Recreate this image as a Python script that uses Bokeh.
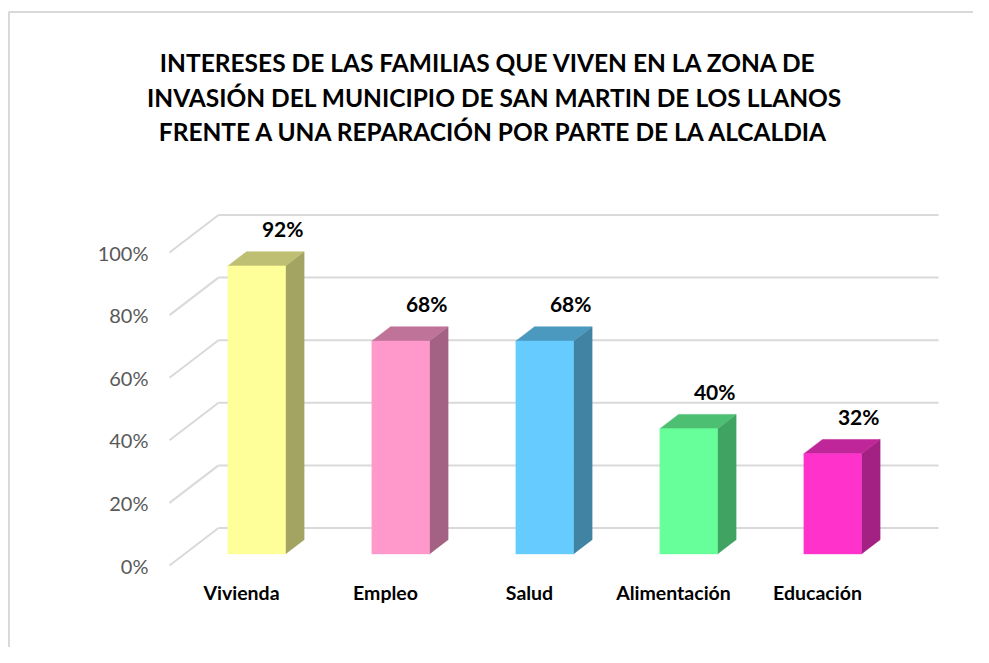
from bokeh.plotting import figure
from bokeh.models import Range1d
from bokeh.core.properties import value
from bokeh.embed import file_html
from bokeh.resources import INLINE

# ---------------- data ----------------
TITLE_LINES = [
    "INTERESES  DE  LAS FAMILIAS QUE VIVEN EN LA ZONA DE",
    "INVASIÓN DEL MUNICIPIO DE SAN MARTIN DE LOS LLANOS",
    "FRENTE A UNA REPARACIÓN POR PARTE DE LA ALCALDIA",
]
CATEGORIES = ["Vivienda", "Empleo", "Salud", "Alimentación", "Educación"]
VALUES = [92, 68, 68, 40, 32]
VALUE_LABELS = ["92%", "68%", "68%", "40%", "32%"]
COLORS = ["#FFFF99", "#FF99CC", "#66CCFF", "#66FF99", "#FF33CC"]
Y_TICKS = [0, 20, 40, 60, 80, 100]
Y_TICK_LABELS = ["0%", "20%", "40%", "60%", "80%", "100%"]

# ---------------- layout (pixels -> data units) ----------------
W, H = 973, 647
PX_X = 144.0          # pixels per category step
PX_Y = 3.13           # pixels per percentage point
ORIGIN_X = 241.0      # px from left of category 0 (front plane)
ORIGIN_Y_TOP = 565.0  # px from top of 0% (front plane)

x_start = -ORIGIN_X / PX_X
x_end = (W - ORIGIN_X) / PX_X
y_start = -(H - ORIGIN_Y_TOP) / PX_Y
y_end = ORIGIN_Y_TOP / PX_Y


def px_x(px):
    return (px - ORIGIN_X) / PX_X


def px_y(py):
    return (ORIGIN_Y_TOP - py) / PX_Y


DX = 49.0 / PX_X      # depth vector, front -> back wall
DY = 37.5 / PX_Y
F1, F2 = 0.31, 0.69   # bar front/back depth fraction
HW = 0.2              # bar half width
N = len(CATEGORIES)


def shade(c, f):
    return "#%02x%02x%02x" % tuple(int(round(int(c[i:i + 2], 16) * f)) for i in (1, 3, 5))


p = figure(width=W, height=H, x_range=Range1d(x_start, x_end), y_range=Range1d(y_start, y_end),
           output_backend="svg", toolbar_location=None, min_border=0,
           x_axis_type=None, y_axis_type=None, outline_line_color=None,
           background_fill_color="white", border_fill_color="white")
p.grid.visible = False

# chart area border (left and top edges)
bx = px_x(8.5)
by = px_y(11.5)
p.line([bx, bx, x_end + 1], [y_start - 5, by, by], line_color="#d9d9d9", line_width=2)

# back wall gridlines and side-wall diagonals
gx0 = -0.5
gx1 = N - 0.5
p.segment(x0=[gx0 + DX] * len(Y_TICKS), y0=[t + DY for t in Y_TICKS],
          x1=[gx1 + DX] * len(Y_TICKS), y1=[t + DY for t in Y_TICKS],
          line_color="#d9d9d9", line_width=2)
p.segment(x0=[gx0] * len(Y_TICKS), y0=Y_TICKS,
          x1=[gx0 + DX] * len(Y_TICKS), y1=[t + DY for t in Y_TICKS],
          line_color="#d9d9d9", line_width=2)

# y tick labels
p.text(x=[gx0 - 21.0 / PX_X] * len(Y_TICKS), y=Y_TICKS, text=Y_TICK_LABELS,
       text_font=value("Lato"), text_font_size="20px", text_color="#595959",
       text_align="right", text_baseline="middle")

# 3D bars
front_xs, front_ys, top_xs, top_ys, side_xs, side_ys = [], [], [], [], [], []
for i, v in enumerate(VALUES):
    xl, xr = i - HW, i + HW
    front_xs.append([xl + F1 * DX, xr + F1 * DX, xr + F1 * DX, xl + F1 * DX])
    front_ys.append([F1 * DY, F1 * DY, v + F1 * DY, v + F1 * DY])
    top_xs.append([xl + F1 * DX, xr + F1 * DX, xr + F2 * DX, xl + F2 * DX])
    top_ys.append([v + F1 * DY, v + F1 * DY, v + F2 * DY, v + F2 * DY])
    side_xs.append([xr + F1 * DX, xr + F2 * DX, xr + F2 * DX, xr + F1 * DX])
    side_ys.append([F1 * DY, F2 * DY, v + F2 * DY, v + F1 * DY])

top_cols = [shade(c, 0.75) for c in COLORS]
side_cols = [shade(c, 0.64) for c in COLORS]
p.patches(side_xs, side_ys, fill_color=side_cols, line_color=side_cols, line_width=0.5)
p.patches(top_xs, top_ys, fill_color=top_cols, line_color=top_cols, line_width=0.5)
p.patches(front_xs, front_ys, fill_color=COLORS, line_color=COLORS, line_width=0.5)

# value labels
p.text(x=[i + F1 * DX + 26.0 / PX_X for i in range(N)],
       y=[v + F2 * DY + 23.0 / PX_Y for v in VALUES], text=VALUE_LABELS,
       text_font=value("Lato"), text_font_style="bold", text_font_size="21px",
       text_color="black", text_align="center", text_baseline="middle")

# category labels
p.text(x=list(range(N)), y=[px_y(592.0)] * N, text=CATEGORIES,
       text_font=value("Lato"), text_font_style="bold", text_font_size="19.5px",
       text_color="black", text_align="center", text_baseline="middle")

# title
p.text(x=[px_x(494.0)] * len(TITLE_LINES),
       y=[px_y(62.0 + k * 34.5) for k in range(len(TITLE_LINES))], text=TITLE_LINES,
       text_font=value("Lato"), text_font_style="bold", text_font_size="24.5px",
       text_color="black", text_align="center", text_baseline="middle")

open("out.html", "w").write(file_html(p, INLINE))
